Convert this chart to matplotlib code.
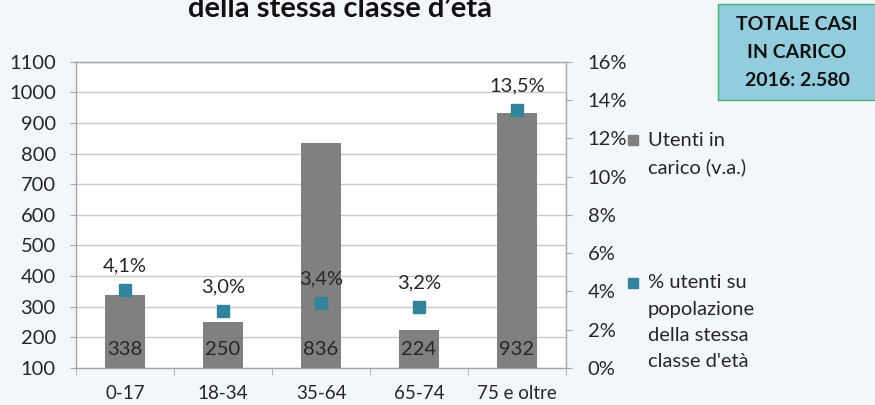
import matplotlib
matplotlib.use("Agg")
import matplotlib.pyplot as plt
from matplotlib.patches import Rectangle
import numpy as np

plt.rcParams['font.family'] = ['Lato', 'DejaVu Sans']

categories = ["0-17", "18-34", "35-64", "65-74", "75 e oltre"]
utenti = [338, 250, 836, 224, 932]
perc = [4.1, 3.0, 3.4, 3.2, 13.5]
perc_labels = ["4,1%", "3,0%", "3,4%", "3,2%", "13,5%"]
left_ticks = list(range(100, 1101, 100))
right_ticks = [0, 2, 4, 6, 8, 10, 12, 14, 16]

bg = "#F3F7FB"
bar_col = "#808080"
mk_col = "#31849B"
txt = "#262626"
FS = 14.5

fig = plt.figure(figsize=(8.75, 4.05), dpi=100, facecolor=bg)
ax = fig.add_axes([76/875, 37/405, 490/875, 306.3/405])
ax.set_facecolor("white")
x = np.arange(len(categories))
ax.bar(x, utenti, width=0.4, color=bar_col, zorder=3, bottom=0)
ax.set_xlim(-0.5, len(categories) - 0.5)
ax.set_ylim(100, 1100)
ax.set_yticks(left_ticks)
ax.grid(axis='y', color="#C8C8C8", linewidth=1.0, zorder=0)
ax.set_xticks(x)
ax.set_xticklabels(categories)
ax.set_xticks(np.arange(-0.5, len(categories), 1.0), minor=True)
ax.tick_params(axis='x', which='major', length=0, pad=12, labelsize=13.5, labelcolor=txt)
ax.tick_params(axis='x', which='minor', length=5, color="#A6A6A6")
ax.tick_params(axis='y', length=4.5, color="#A6A6A6", pad=10, labelsize=FS, labelcolor=txt)
for s in ax.spines.values():
    s.set_color("#A6A6A6")
    s.set_linewidth(1.0)

for xi, v in zip(x, utenti):
    ax.annotate(str(v), (xi, 100), xytext=(0, 13), textcoords='offset points',
                ha='center', va='center', fontsize=FS, color=txt, zorder=5)

ax2 = ax.twinx()
ax2.set_ylim(0, 16)
ax2.set_yticks(right_ticks)
ax2.set_yticklabels([f"{t}%" for t in right_ticks])
ax2.tick_params(axis='y', length=4.5, color="#A6A6A6", pad=11, labelsize=FS, labelcolor=txt)
for s in ax2.spines.values():
    s.set_visible(False)
ax2.plot(x, perc, linestyle='none', marker='s', markersize=8.5, color=mk_col, zorder=6)
for xi, p, lab in zip(x, perc, perc_labels):
    ax2.annotate(lab, (xi, p), xytext=(0, 17), textcoords='offset points',
                 ha='center', va='center', fontsize=FS, color=txt)

# Title (partially cut off at top)
fig.text(340/875, 1 - 17/405, "della stessa classe d’età", ha='center', va='baseline',
         fontsize=21, fontweight='bold', color="#111111")

# Legend (manual)
W, H = 875, 405
def sq(cx, cy, col):
    fig.patches.append(Rectangle(((cx - 5)/W, 1 - (cy + 5)/H), 10/W, 10/H,
                                 transform=fig.transFigure, color=col))
sq(633, 140, bar_col)
fig.text(648/W, 1 - 140/H, "Utenti in", ha='left', va='center', fontsize=FS, color=txt)
fig.text(648/W, 1 - 167/H, "carico (v.a.)", ha='left', va='center', fontsize=FS, color=txt)
sq(633, 283, mk_col)
for i, line in enumerate(["% utenti su", "popolazione", "della stessa", "classe d'età"]):
    fig.text(648/W, 1 - (283 + 26.3*i)/H, line, ha='left', va='center', fontsize=FS, color=txt)

# Total box
box = Rectangle((718/W, 1 - 100/H), 160/W, 96/H, transform=fig.transFigure,
                facecolor="#93CDDD", edgecolor="#3CB371", linewidth=1.0)
fig.patches.append(box)
for i, line in enumerate(["TOTALE CASI", "IN CARICO", "2016: 2.580"]):
    fig.text(797/W, 1 - (24 + 28.5*i)/H, line, ha='center', va='center',
             fontsize=14, fontweight='bold', color="#111111")

fig.savefig("out.png", dpi=100, facecolor=bg)
